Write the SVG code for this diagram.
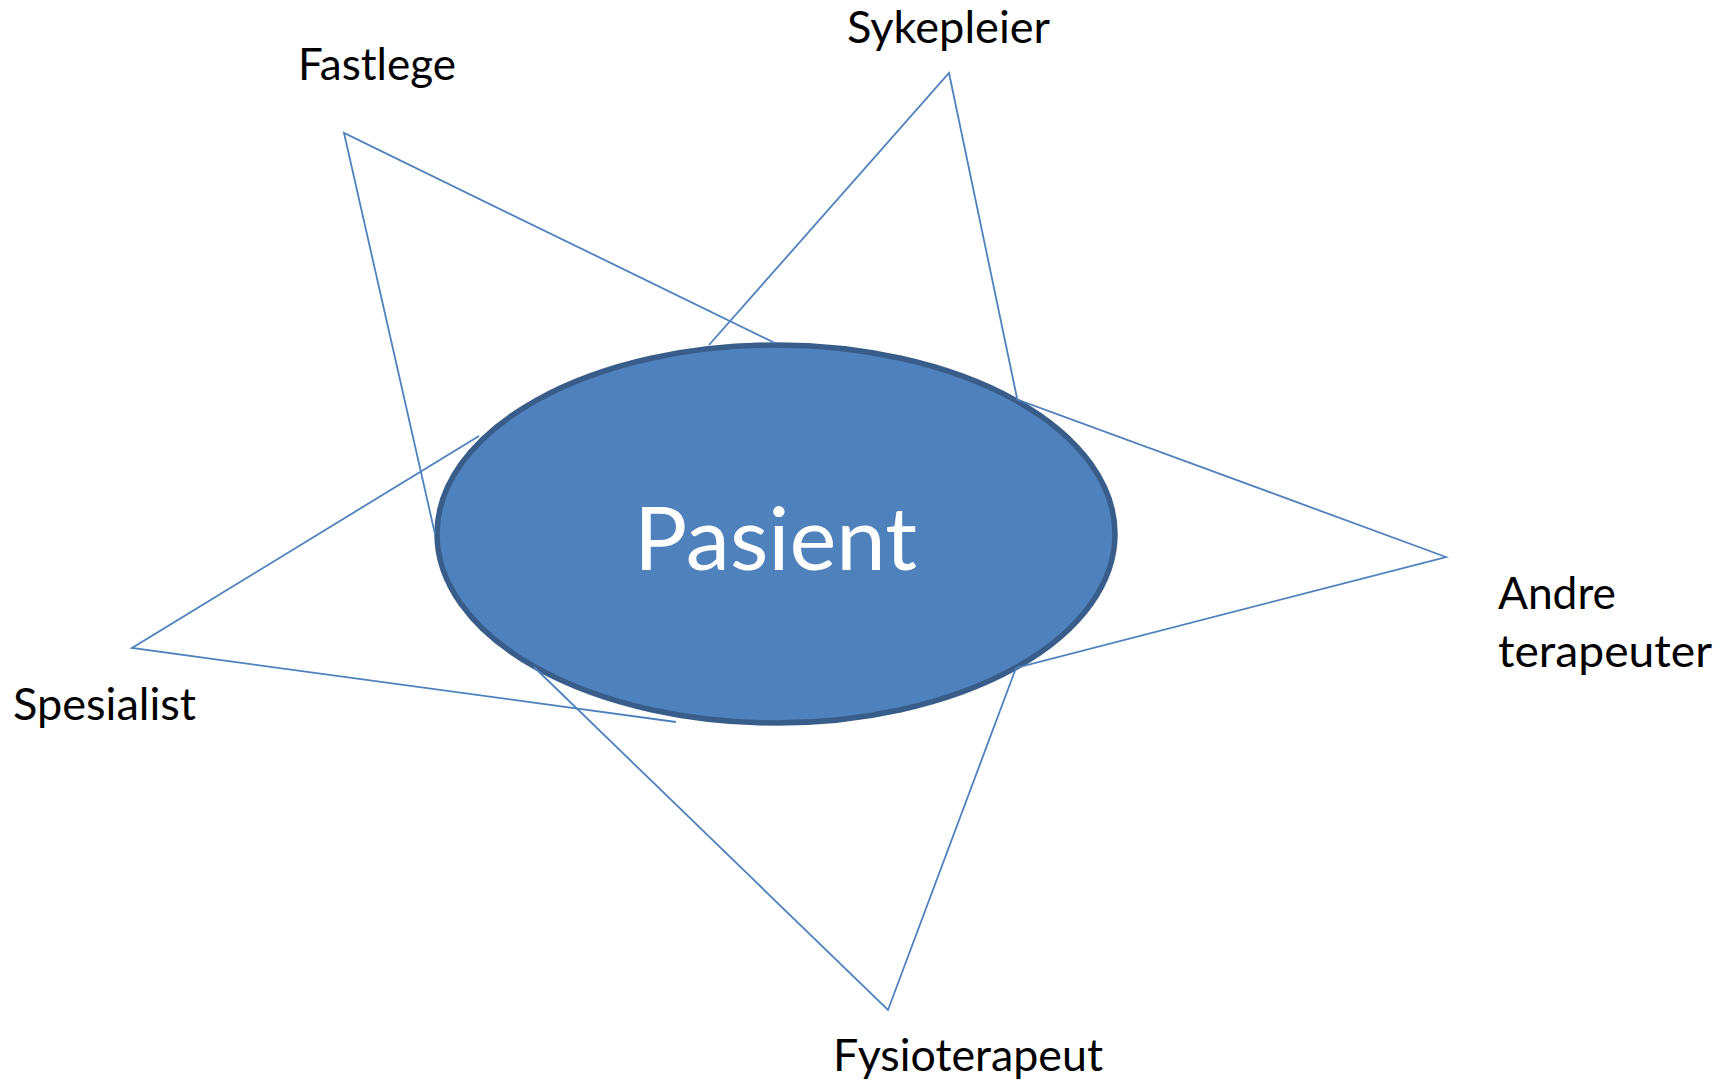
<svg xmlns="http://www.w3.org/2000/svg" width="1726" height="1081" viewBox="0 0 1726 1081">
<style>
.lbl{font-family:Lato,"Open Sans","Liberation Sans",sans-serif;font-size:44px;fill:#000}
.ln{fill:none;stroke:#4F81BD;stroke-width:1.8;stroke-linejoin:miter}
.pt{font-family:Lato,"Open Sans","Liberation Sans",sans-serif;font-size:88px;fill:#fff}
</style>
<rect width="1726" height="1081" fill="#fff"/>
<g id="pasient">
<ellipse cx="776" cy="534" rx="339" ry="189" fill="#4F81BD" stroke="#385D8A" stroke-width="5.5"/>
<text class="pt" x="634" y="570" textLength="283" lengthAdjust="spacingAndGlyphs">Pasient</text>
</g>
<g id="connectors">
<polyline class="ln" points="435,534 344,133 775,343"/>
<polyline class="ln" points="709,345 949,73 1017,398"/>
<polyline class="ln" points="1016,399 1446,557 1016,668"/>
<polyline class="ln" points="1016,668 888,1010 534,667"/>
<polyline class="ln" points="479,436 132,648 676,722"/>
</g>
<g id="fastlege"><text class="lbl" x="298" y="80" textLength="158" lengthAdjust="spacingAndGlyphs">Fastlege</text></g>
<g id="sykepleier"><text class="lbl" x="847" y="43" textLength="203" lengthAdjust="spacingAndGlyphs">Sykepleier</text></g>
<g id="andre"><text class="lbl" x="1498" y="609" textLength="118" lengthAdjust="spacingAndGlyphs">Andre</text><text class="lbl" x="1498" y="667" textLength="214" lengthAdjust="spacingAndGlyphs">terapeuter</text></g>
<g id="fysioterapeut"><text class="lbl" x="833" y="1071" textLength="270" lengthAdjust="spacingAndGlyphs">Fysioterapeut</text></g>
<g id="spesialist"><text class="lbl" x="13" y="720" textLength="183" lengthAdjust="spacingAndGlyphs">Spesialist</text></g>
</svg>
